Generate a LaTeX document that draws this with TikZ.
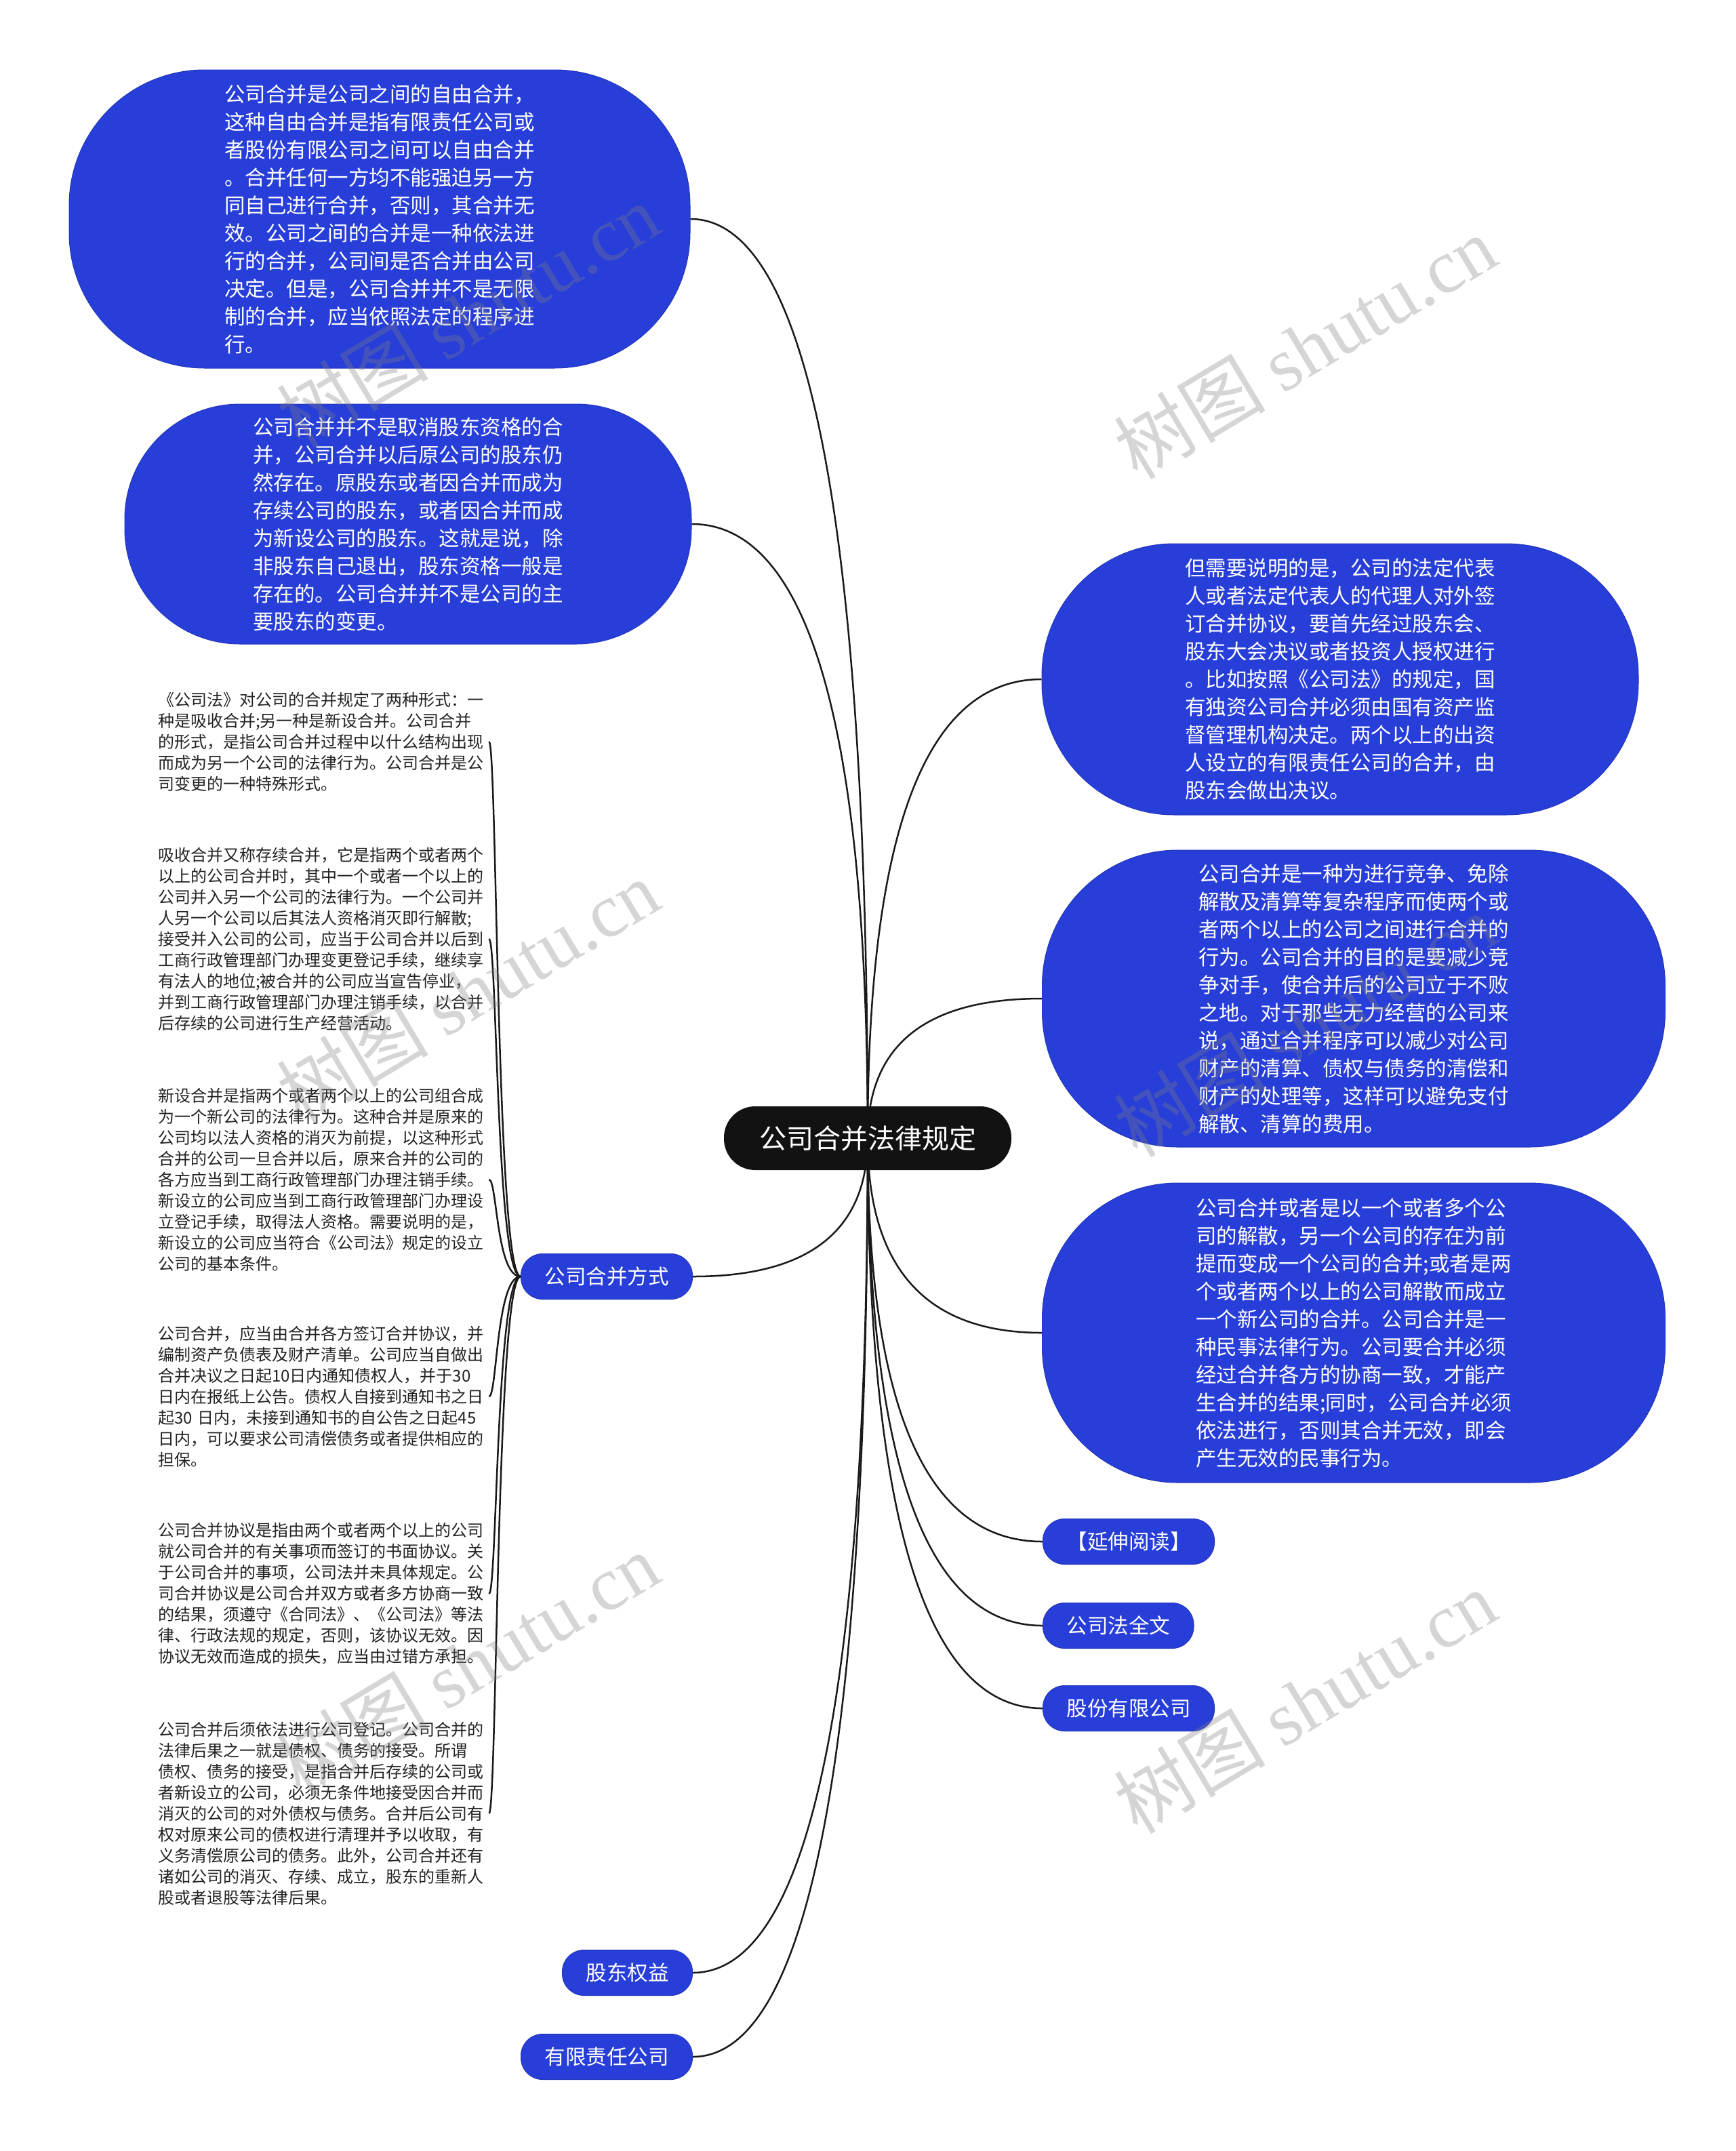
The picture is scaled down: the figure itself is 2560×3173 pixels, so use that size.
\documentclass[tikz,border=0pt]{standalone}
\usepackage{fontspec}
\setmainfont{Noto Sans CJK SC}
\newfontfamily\wmlatin{Liberation Serif}
\usetikzlibrary{calc,backgrounds}
\definecolor{nodeblue}{RGB}{40,62,216}
\definecolor{leafgray}{RGB}{34,34,34}
\newcommand\mconn[2]{\draw[conn] (#1) .. controls ($(#1)!0.667!(#1 |- #2)$) and ($(#2)!0.667!(#1 |- #2)$) .. (#2);}
\newcommand\lconn[2]{\draw[conn] (#1) .. controls ($(#1)+(-36,0)$) and ($(#2)+(12,0)$) .. (#2);}
\begin{document}
\begin{tikzpicture}[x=1pt,y=-1pt,
  blob/.style={draw=nodeblue!85!black, line width=1pt, fill=nodeblue, text=white, align=left, inner sep=0pt, font=\fontsize{30.5}{41}\selectfont},
  pill/.style={draw=nodeblue!85!black, line width=1pt, fill=nodeblue, text=white, rounded corners=32pt, minimum height=67pt, inner xsep=35pt, inner ysep=0pt, font=\fontsize{30.5}{36}\selectfont},
  leaf/.style={text=leafgray, align=left, text width=484pt, inner sep=4pt, anchor=west, font=\fontsize{24}{31}\selectfont},
  conn/.style={draw=black!90, line width=2.5pt},
  wm/.style={text=gray, opacity=0.33, rotate=31, font=\fontsize{112}{120}\selectfont}
]
\useasboundingbox (0,0) rectangle (2560,3173);

% central
\node[fill=black!93, text=white, rounded corners=46pt, minimum width=424pt, minimum height=94pt, inner sep=0pt, font=\fontsize{40}{48}\selectfont] (m) at (1280,1679) {公司合并法律规定};

% left big blobs
\node[blob, minimum width=916pt, minimum height=440pt, rounded corners=200pt] (e1) at (560,323) {公司合并是公司之间的自由合并，\\这种自由合并是指有限责任公司或\\者股份有限公司之间可以自由合并\\。合并任何一方均不能强迫另一方\\同自己进行合并，否则，其合并无\\效。公司之间的合并是一种依法进\\行的合并，公司间是否合并由公司\\决定。但是，公司合并并不是无限\\制的合并，应当依照法定的程序进\\行。};
\node[blob, minimum width=836pt, minimum height=354pt, rounded corners=170pt] (e2) at (602,773) {公司合并并不是取消股东资格的合\\并，公司合并以后原公司的股东仍\\然存在。原股东或者因合并而成为\\存续公司的股东，或者因合并而成\\为新设公司的股东。这就是说，除\\非股东自己退出，股东资格一般是\\存在的。公司合并并不是公司的主\\要股东的变更。};

% right big blobs
\node[blob, minimum width=880pt, minimum height=400pt, rounded corners=195pt] (e3) at (1977,1002) {但需要说明的是，公司的法定代表\\人或者法定代表人的代理人对外签\\订合并协议，要首先经过股东会、\\股东大会决议或者投资人授权进行\\。比如按照《公司法》的规定，国\\有独资公司合并必须由国有资产监\\督管理机构决定。两个以上的出资\\人设立的有限责任公司的合并，由\\股东会做出决议。};
\node[blob, minimum width=919pt, minimum height=438pt, rounded corners=200pt] (e4) at (1997,1473) {公司合并是一种为进行竞争、免除\\解散及清算等复杂程序而使两个或\\者两个以上的公司之间进行合并的\\行为。公司合并的目的是要减少竞\\争对手，使合并后的公司立于不败\\之地。对于那些无力经营的公司来\\说，通过合并程序可以减少对公司\\财产的清算、债权与债务的清偿和\\财产的处理等，这样可以避免支付\\解散、清算的费用。};
\node[blob, minimum width=919pt, minimum height=442pt, rounded corners=200pt] (e5) at (1997,1966) {公司合并或者是以一个或者多个公\\司的解散，另一个公司的存在为前\\提而变成一个公司的合并;或者是两\\个或者两个以上的公司解散而成立\\一个新公司的合并。公司合并是一\\种民事法律行为。公司要合并必须\\经过合并各方的协商一致，才能产\\生合并的结果;同时，公司合并必须\\依法进行，否则其合并无效，即会\\产生无效的民事行为。};

% right pills
\node[pill, anchor=west] (r1) at (1538,2274) {【延伸阅读】};
\node[pill, anchor=west] (r2) at (1538,2398) {公司法全文};
\node[pill, anchor=west] (r3) at (1538,2520) {股份有限公司};

% left pills
\node[pill, anchor=east] (fs) at (1022,1883) {公司合并方式};
\node[pill, anchor=east] (gq) at (1022,2910) {股东权益};
\node[pill, anchor=east] (yx) at (1022,3034) {有限责任公司};

% leaves
\node[leaf] (l1) at (229,1094) {《公司法》对公司的合并规定了两种形式：一\\种是吸收合并;另一种是新设合并。公司合并\\的形式，是指公司合并过程中以什么结构出现\\而成为另一个公司的法律行为。公司合并是公\\司变更的一种特殊形式。};
\node[leaf] (l2) at (229,1385) {吸收合并又称存续合并，它是指两个或者两个\\以上的公司合并时，其中一个或者一个以上的\\公司并入另一个公司的法律行为。一个公司并\\人另一个公司以后其法人资格消灭即行解散;\\接受并入公司的公司，应当于公司合并以后到\\工商行政管理部门办理变更登记手续，继续享\\有法人的地位;被合并的公司应当宣告停业，\\并到工商行政管理部门办理注销手续，以合并\\后存续的公司进行生产经营活动。};
\node[leaf] (l3) at (229,1740) {新设合并是指两个或者两个以上的公司组合成\\为一个新公司的法律行为。这种合并是原来的\\公司均以法人资格的消灭为前提，以这种形式\\合并的公司一旦合并以后，原来合并的公司的\\各方应当到工商行政管理部门办理注销手续。\\新设立的公司应当到工商行政管理部门办理设\\立登记手续，取得法人资格。需要说明的是，\\新设立的公司应当符合《公司法》规定的设立\\公司的基本条件。};
\node[leaf] (l4) at (229,2060) {公司合并，应当由合并各方签订合并协议，并\\编制资产负债表及财产清单。公司应当自做出\\合并决议之日起10日内通知债权人，并于30\\日内在报纸上公告。债权人自接到通知书之日\\起30 日内，未接到通知书的自公告之日起45\\日内，可以要求公司清偿债务或者提供相应的\\担保。};
\node[leaf] (l5) at (229,2351) {公司合并协议是指由两个或者两个以上的公司\\就公司合并的有关事项而签订的书面协议。关\\于公司合并的事项，公司法并未具体规定。公\\司合并协议是公司合并双方或者多方协商一致\\的结果，须遵守《合同法》、《公司法》等法\\律、行政法规的规定，否则，该协议无效。因\\协议无效而造成的损失，应当由过错方承担。};
\node[leaf] (l6) at (229,2675) {公司合并后须依法进行公司登记。公司合并的\\法律后果之一就是债权、债务的接受。所谓\\债权、债务的接受，是指合并后存续的公司或\\者新设立的公司，必须无条件地接受因合并而\\消灭的公司的对外债权与债务。合并后公司有\\权对原来公司的债权进行清理并予以收取，有\\义务清偿原公司的债务。此外，公司合并还有\\诸如公司的消灭、存续、成立，股东的重新人\\股或者退股等法律后果。};

\begin{scope}[on background layer]
\fill[white] (0,0) rectangle (2560,3173);
\mconn{m.center}{e1.east}
\mconn{m.center}{e2.east}
\mconn{m.center}{fs.east}
\mconn{m.center}{gq.east}
\mconn{m.center}{yx.east}
\mconn{m.center}{e3.west}
\mconn{m.center}{e4.west}
\mconn{m.center}{e5.west}
\mconn{m.center}{r1.west}
\mconn{m.center}{r2.west}
\mconn{m.center}{r3.west}
\lconn{fs.west}{l1.east}
\lconn{fs.west}{l2.east}
\lconn{fs.west}{l3.east}
\lconn{fs.west}{l4.east}
\lconn{fs.west}{l5.east}
\lconn{fs.west}{l6.east}
\end{scope}

% watermarks
\node[wm] (w1) at (1925,512) {树图 {\wmlatin shutu.cn}};
\node[wm] (w2) at (1925,1512) {树图 {\wmlatin shutu.cn}};
\node[wm] (w3) at (1925,2510) {树图 {\wmlatin shutu.cn}};
\node[wm] (w4) at (690,465) {树图 {\wmlatin shutu.cn}};
\node[wm] (w5) at (690,1462) {树图 {\wmlatin shutu.cn}};
\node[wm] (w6) at (690,2455) {树图 {\wmlatin shutu.cn}};
\end{tikzpicture}
\end{document}
